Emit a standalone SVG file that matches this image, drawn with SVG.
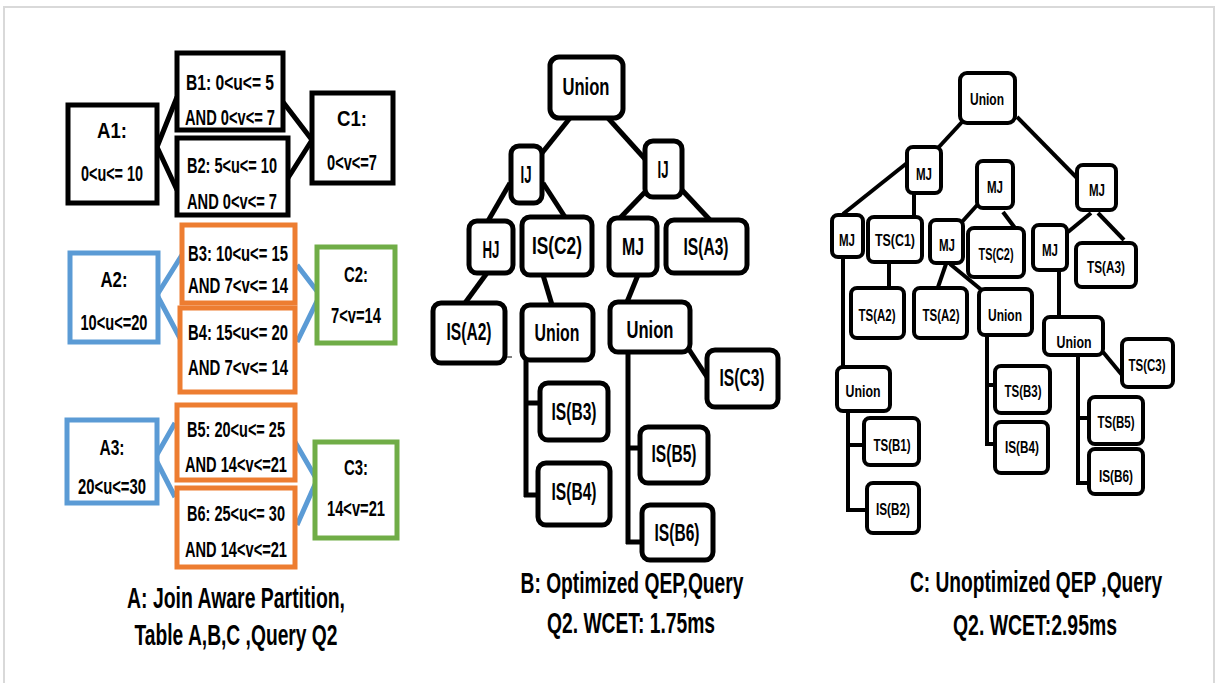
<svg xmlns="http://www.w3.org/2000/svg" width="1219" height="683" viewBox="0 0 1219 683">
<style>
text{font-family:"Liberation Sans",Arial,sans-serif;font-weight:bold;fill:#000;text-anchor:middle}
.lb{font-size:22px}
.mt{font-size:23px}
.rt{font-size:17px}
.cap{font-size:29px}
.bk{fill:#fff;stroke:#000;stroke-width:5}
.bl{fill:#fff;stroke:#5B9BD5;stroke-width:5}
.or{fill:#fff;stroke:#ED7D31;stroke-width:5}
.gr{fill:#fff;stroke:#70AD47;stroke-width:5}
.mn{fill:#fff;stroke:#000;stroke-width:5}
.rn{fill:#fff;stroke:#000;stroke-width:4}
.ln{stroke:#000;stroke-width:5;fill:none}
.lnb{stroke:#5B9BD5;stroke-width:5;fill:none}
.rl{stroke:#000;stroke-width:4;fill:none}
</style>
<rect x="0" y="0" width="1219" height="683" fill="#fff"/>
<rect x="4" y="7" width="1210" height="690" fill="none" stroke="#d9d9d9" stroke-width="2"/>

<g id="connectors">
  <!-- left partitions -->
  <path class="ln" d="M177,97 L157,147 L177,190"/>
  <path class="ln" d="M283,102 L312,140 L288,178"/>
  <path class="lnb" d="M182,255 L157,295 L182,342"/>
  <path class="lnb" d="M297,265 L320,295 L297,342"/>
  <path class="lnb" d="M175,423 L155,458 L175,497"/>
  <path class="lnb" d="M295,442 L317,480 L297,525"/>
  <line x1="86" y1="322" x2="86" y2="344" stroke="#777" stroke-width="1"/>
  <!-- middle tree -->
  <line class="ln" x1="570" y1="118" x2="542" y2="153"/>
  <line class="ln" x1="608" y1="118" x2="645" y2="159"/>
  <line class="ln" x1="510" y1="183" x2="488" y2="221"/>
  <line class="ln" x1="543" y1="183" x2="565" y2="217"/>
  <line class="ln" x1="645" y1="192" x2="620" y2="218"/>
  <line class="ln" x1="682" y1="190" x2="710" y2="220"/>
  <line class="ln" x1="487" y1="273" x2="465" y2="303"/>
  <line class="ln" x1="543" y1="275" x2="552" y2="305"/>
  <line class="ln" x1="638" y1="275" x2="627" y2="302"/>
  <line class="ln" x1="688" y1="348" x2="707" y2="377"/>
  <path class="ln" d="M526,360 V497 M524,403 H540 M524,495 H540"/>
  <path class="ln" d="M628,352 V544 M626,448 H640 M626,542 H642"/>
  <line x1="505" y1="357" x2="512" y2="357" stroke="#000" stroke-width="1"/>
  <!-- right tree -->
  <line class="rl" x1="962" y1="122" x2="938" y2="148"/>
  <line class="rl" x1="1017" y1="117" x2="1077" y2="178"/>
  <line class="rl" x1="907" y1="163" x2="843" y2="214"/>
  <line class="rl" x1="914" y1="193" x2="914" y2="217"/>
  <line class="rl" x1="979" y1="203" x2="961" y2="223"/>
  <line class="rl" x1="1003" y1="212" x2="1015" y2="228"/>
  <line class="rl" x1="1091" y1="213" x2="1068" y2="232"/>
  <line class="rl" x1="1098" y1="213" x2="1124" y2="240"/>
  <line class="rl" x1="843" y1="257" x2="843" y2="367"/>
  <line class="rl" x1="889" y1="262" x2="889" y2="288"/>
  <line class="rl" x1="946" y1="264" x2="937" y2="290"/>
  <line class="rl" x1="950" y1="264" x2="984" y2="292"/>
  <line class="rl" x1="1059" y1="270" x2="1059" y2="317"/>
  <line class="rl" x1="1103" y1="352" x2="1122" y2="375"/>
  <path class="rl" d="M848,411 V512 M846,445 H864 M846,510 H867"/>
  <path class="rl" d="M987,335 V446 M985,385 H995 M985,444 H995"/>
  <path class="rl" d="M1078,355 V485 M1076,418 H1089 M1076,483 H1089"/>
</g>

<!-- left: partitions -->
<g id="A1"><rect class="bk" x="68" y="105" width="89" height="98"/>
  <text class="lb" x="112" y="138" textLength="30" lengthAdjust="spacingAndGlyphs">A1:</text>
  <text class="lb" x="112" y="181" textLength="62" lengthAdjust="spacingAndGlyphs">0&lt;u&lt;= 10</text></g>
<g id="B1"><rect class="bk" x="177" y="53" width="106" height="77"/>
  <text class="lb" x="230" y="90" textLength="88" lengthAdjust="spacingAndGlyphs">B1: 0&lt;u&lt;= 5</text>
  <text class="lb" x="230" y="125" textLength="90" lengthAdjust="spacingAndGlyphs">AND 0&lt;v&lt;= 7</text></g>
<g id="B2"><rect class="bk" x="177" y="138" width="111" height="77"/>
  <text class="lb" x="232" y="173" textLength="90" lengthAdjust="spacingAndGlyphs">B2: 5&lt;u&lt;= 10</text>
  <text class="lb" x="232" y="209" textLength="90" lengthAdjust="spacingAndGlyphs">AND 0&lt;v&lt;= 7</text></g>
<g id="C1"><rect class="bk" x="312" y="93" width="81" height="90"/>
  <text class="lb" x="352" y="126" textLength="30" lengthAdjust="spacingAndGlyphs">C1:</text>
  <text class="lb" x="352" y="170" textLength="50" lengthAdjust="spacingAndGlyphs">0&lt;v&lt;=7</text></g>

<g id="A2"><rect class="bl" x="70" y="253" width="88" height="89"/>
  <text class="lb" x="114" y="287" textLength="27" lengthAdjust="spacingAndGlyphs">A2:</text>
  <text class="lb" x="114" y="330" textLength="67" lengthAdjust="spacingAndGlyphs">10&lt;u&lt;=20</text></g>
<g id="B3"><rect class="or" x="182" y="225" width="113" height="78"/>
  <text class="lb" x="238" y="261" textLength="100" lengthAdjust="spacingAndGlyphs">B3: 10&lt;u&lt;= 15</text>
  <text class="lb" x="238" y="293" textLength="100" lengthAdjust="spacingAndGlyphs">AND 7&lt;v&lt;= 14</text></g>
<g id="B4"><rect class="or" x="180" y="308" width="115" height="84"/>
  <text class="lb" x="238" y="340" textLength="100" lengthAdjust="spacingAndGlyphs">B4: 15&lt;u&lt;= 20</text>
  <text class="lb" x="238" y="375" textLength="100" lengthAdjust="spacingAndGlyphs">AND 7&lt;v&lt;= 14</text></g>
<g id="C2"><rect class="gr" x="317" y="247" width="78" height="96"/>
  <text class="lb" x="356" y="282" textLength="24" lengthAdjust="spacingAndGlyphs">C2:</text>
  <text class="lb" x="356" y="323" textLength="50" lengthAdjust="spacingAndGlyphs">7&lt;v=14</text></g>

<g id="A3"><rect class="bl" x="67" y="420" width="90" height="83"/>
  <text class="lb" x="112" y="455" textLength="25" lengthAdjust="spacingAndGlyphs">A3:</text>
  <text class="lb" x="112" y="494" textLength="68" lengthAdjust="spacingAndGlyphs">20&lt;u&lt;=30</text></g>
<g id="B5"><rect class="or" x="177" y="405" width="118" height="75"/>
  <text class="lb" x="236" y="437" textLength="98" lengthAdjust="spacingAndGlyphs">B5: 20&lt;u&lt;= 25</text>
  <text class="lb" x="236" y="472" textLength="102" lengthAdjust="spacingAndGlyphs">AND 14&lt;v&lt;=21</text></g>
<g id="B6"><rect class="or" x="177" y="488" width="118" height="79"/>
  <text class="lb" x="236" y="521" textLength="98" lengthAdjust="spacingAndGlyphs">B6: 25&lt;u&lt;= 30</text>
  <text class="lb" x="236" y="557" textLength="102" lengthAdjust="spacingAndGlyphs">AND 14&lt;v&lt;=21</text></g>
<g id="C3"><rect class="gr" x="315" y="442" width="82" height="96"/>
  <text class="lb" x="356" y="475" textLength="24" lengthAdjust="spacingAndGlyphs">C3:</text>
  <text class="lb" x="356" y="516" textLength="58" lengthAdjust="spacingAndGlyphs">14&lt;v=21</text></g>

<g id="captionA">
  <text class="cap" x="236" y="608" textLength="218" lengthAdjust="spacingAndGlyphs">A: Join Aware Partition,</text>
  <text class="cap" x="236" y="645" textLength="203" lengthAdjust="spacingAndGlyphs">Table A,B,C ,Query Q2</text></g>

<!-- middle: optimized QEP -->
<g id="m_union"><rect class="mn" x="550" y="57" width="73" height="61" rx="9"/><text class="mt" x="586" y="95" textLength="47" lengthAdjust="spacingAndGlyphs">Union</text></g>
<g id="m_ij1"><rect class="mn" x="511" y="146" width="31" height="57" rx="8"/><text class="mt" x="526" y="183" textLength="11" lengthAdjust="spacingAndGlyphs">IJ</text></g>
<g id="m_ij2"><rect class="mn" x="645" y="141" width="37" height="56" rx="8"/><text class="mt" x="663" y="178" textLength="11" lengthAdjust="spacingAndGlyphs">IJ</text></g>
<g id="m_hj"><rect class="mn" x="469" y="221" width="44" height="52" rx="8"/><text class="mt" x="491" y="258" textLength="17" lengthAdjust="spacingAndGlyphs">HJ</text></g>
<g id="m_isc2"><rect class="mn" x="522" y="217" width="70" height="58" rx="8"/><text class="mt" x="557" y="254" textLength="50" lengthAdjust="spacingAndGlyphs">IS(C2)</text></g>
<g id="m_mj"><rect class="mn" x="609" y="218" width="48" height="57" rx="8"/><text class="mt" x="633" y="255" textLength="22" lengthAdjust="spacingAndGlyphs">MJ</text></g>
<g id="m_isa3"><rect class="mn" x="666" y="220" width="81" height="53" rx="8"/><text class="mt" x="706" y="255" textLength="45" lengthAdjust="spacingAndGlyphs">IS(A3)</text></g>
<g id="m_isa2"><rect class="mn" x="433" y="303" width="72" height="60" rx="8"/><text class="mt" x="469" y="340" textLength="45" lengthAdjust="spacingAndGlyphs">IS(A2)</text></g>
<g id="m_union2"><rect class="mn" x="522" y="305" width="71" height="55" rx="8"/><text class="mt" x="557" y="341" textLength="45" lengthAdjust="spacingAndGlyphs">Union</text></g>
<g id="m_union3"><rect class="mn" x="610" y="302" width="80" height="50" rx="8"/><text class="mt" x="650" y="338" textLength="47" lengthAdjust="spacingAndGlyphs">Union</text></g>
<g id="m_isc3"><rect class="mn" x="707" y="350" width="71" height="57" rx="8"/><text class="mt" x="742" y="386" textLength="45" lengthAdjust="spacingAndGlyphs">IS(C3)</text></g>
<g id="m_isb3"><rect class="mn" x="540" y="383" width="68" height="57" rx="8"/><text class="mt" x="574" y="420" textLength="45" lengthAdjust="spacingAndGlyphs">IS(B3)</text></g>
<g id="m_isb4"><rect class="mn" x="538" y="463" width="72" height="62" rx="8"/><text class="mt" x="574" y="500" textLength="45" lengthAdjust="spacingAndGlyphs">IS(B4)</text></g>
<g id="m_isb5"><rect class="mn" x="640" y="427" width="68" height="56" rx="8"/><text class="mt" x="674" y="462" textLength="45" lengthAdjust="spacingAndGlyphs">IS(B5)</text></g>
<g id="m_isb6"><rect class="mn" x="642" y="505" width="71" height="55" rx="8"/><text class="mt" x="677" y="541" textLength="45" lengthAdjust="spacingAndGlyphs">IS(B6)</text></g>

<g id="captionB">
  <text class="cap" x="632" y="593" textLength="223" lengthAdjust="spacingAndGlyphs">B: Optimized QEP,Query</text>
  <text class="cap" x="631" y="633" textLength="168" lengthAdjust="spacingAndGlyphs">Q2. WCET: 1.75ms</text></g>

<!-- right: unoptimized QEP -->
<g id="r_union"><rect class="rn" x="960" y="73" width="55" height="50" rx="7"/><text class="rt" x="987" y="105" textLength="34" lengthAdjust="spacingAndGlyphs">Union</text></g>
<g id="r_mj1"><rect class="rn" x="907" y="147" width="34" height="46" rx="6"/><text class="rt" x="924" y="180" textLength="16" lengthAdjust="spacingAndGlyphs">MJ</text></g>
<g id="r_mjc"><rect class="rn" x="977" y="161" width="36" height="47" rx="6"/><text class="rt" x="995" y="193" textLength="16" lengthAdjust="spacingAndGlyphs">MJ</text></g>
<g id="r_mjr"><rect class="rn" x="1077" y="165" width="39" height="45" rx="6"/><text class="rt" x="1097" y="196" textLength="16" lengthAdjust="spacingAndGlyphs">MJ</text></g>
<g id="r_mjll"><rect class="rn" x="832" y="215" width="31" height="42" rx="6"/><text class="rt" x="847" y="246" textLength="16" lengthAdjust="spacingAndGlyphs">MJ</text></g>
<g id="r_tsc1"><rect class="rn" x="868" y="217" width="54" height="45" rx="6"/><text class="rt" x="895" y="246" textLength="40" lengthAdjust="spacingAndGlyphs">TS(C1)</text></g>
<g id="r_mjcl"><rect class="rn" x="930" y="220" width="33" height="43" rx="6"/><text class="rt" x="947" y="251" textLength="16" lengthAdjust="spacingAndGlyphs">MJ</text></g>
<g id="r_tsc2"><rect class="rn" x="968" y="228" width="56" height="49" rx="6"/><text class="rt" x="996" y="260" textLength="35" lengthAdjust="spacingAndGlyphs">TS(C2)</text></g>
<g id="r_mjrl"><rect class="rn" x="1033" y="225" width="34" height="45" rx="6"/><text class="rt" x="1050" y="256" textLength="16" lengthAdjust="spacingAndGlyphs">MJ</text></g>
<g id="r_tsa3"><rect class="rn" x="1076" y="243" width="60" height="44" rx="6"/><text class="rt" x="1106" y="273" textLength="38" lengthAdjust="spacingAndGlyphs">TS(A3)</text></g>
<g id="r_tsa2a"><rect class="rn" x="851" y="288" width="53" height="50" rx="6"/><text class="rt" x="877" y="321" textLength="37" lengthAdjust="spacingAndGlyphs">TS(A2)</text></g>
<g id="r_tsa2b"><rect class="rn" x="914" y="288" width="53" height="50" rx="6"/><text class="rt" x="941" y="321" textLength="37" lengthAdjust="spacingAndGlyphs">TS(A2)</text></g>
<g id="r_unionc"><rect class="rn" x="979" y="289" width="53" height="46" rx="6"/><text class="rt" x="1005" y="321" textLength="34" lengthAdjust="spacingAndGlyphs">Union</text></g>
<g id="r_unionr"><rect class="rn" x="1044" y="317" width="59" height="38" rx="6"/><text class="rt" x="1074" y="348" textLength="35" lengthAdjust="spacingAndGlyphs">Union</text></g>
<g id="r_tsc3"><rect class="rn" x="1122" y="339" width="51" height="48" rx="6"/><text class="rt" x="1147" y="371" textLength="37" lengthAdjust="spacingAndGlyphs">TS(C3)</text></g>
<g id="r_unionl"><rect class="rn" x="837" y="367" width="53" height="44" rx="6"/><text class="rt" x="863" y="397" textLength="35" lengthAdjust="spacingAndGlyphs">Union</text></g>
<g id="r_tsb1"><rect class="rn" x="864" y="418" width="55" height="47" rx="6"/><text class="rt" x="892" y="451" textLength="37" lengthAdjust="spacingAndGlyphs">TS(B1)</text></g>
<g id="r_isb2"><rect class="rn" x="867" y="483" width="52" height="50" rx="6"/><text class="rt" x="893" y="515" textLength="34" lengthAdjust="spacingAndGlyphs">IS(B2)</text></g>
<g id="r_tsb3"><rect class="rn" x="995" y="366" width="55" height="47" rx="6"/><text class="rt" x="1023" y="397" textLength="37" lengthAdjust="spacingAndGlyphs">TS(B3)</text></g>
<g id="r_isb4"><rect class="rn" x="995" y="422" width="53" height="51" rx="6"/><text class="rt" x="1022" y="453" textLength="34" lengthAdjust="spacingAndGlyphs">IS(B4)</text></g>
<g id="r_tsb5"><rect class="rn" x="1089" y="397" width="54" height="47" rx="6"/><text class="rt" x="1116" y="428" textLength="37" lengthAdjust="spacingAndGlyphs">TS(B5)</text></g>
<g id="r_isb6"><rect class="rn" x="1089" y="449" width="54" height="45" rx="6"/><text class="rt" x="1116" y="482" textLength="34" lengthAdjust="spacingAndGlyphs">IS(B6)</text></g>

<g id="captionC">
  <text class="cap" transform="translate(1036,592) scale(0.66,1)" x="0" y="0" textLength="382" lengthAdjust="spacingAndGlyphs">C: Unoptimized QEP ,Query</text>
  <text class="cap" x="1035" y="635" textLength="164" lengthAdjust="spacingAndGlyphs">Q2. WCET:2.95ms</text></g>
</svg>
